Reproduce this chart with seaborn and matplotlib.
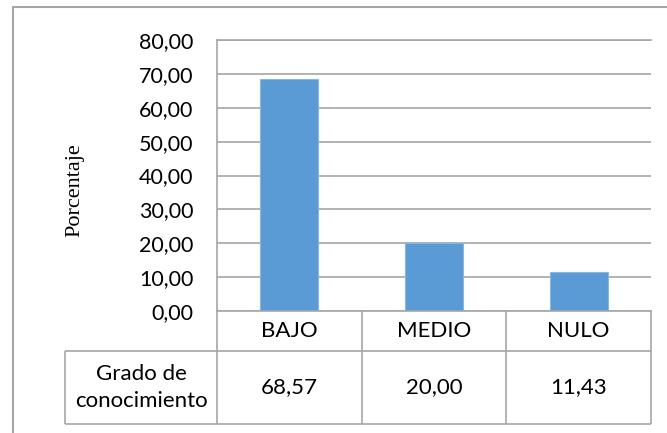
import matplotlib
matplotlib.use('Agg')
import matplotlib.pyplot as plt
import seaborn as sns
import pandas as pd
from matplotlib.transforms import blended_transform_factory
from matplotlib.lines import Line2D
from matplotlib.ticker import FuncFormatter

# ---- data ----
categories = ['BAJO', 'MEDIO', 'NULO']
values = [68.57, 20.00, 11.43]
y_ticks = [0, 10, 20, 30, 40, 50, 60, 70, 80]
row_label = 'Grado de\nconocimiento'
y_label = 'Porcentaje'

sns.set_theme(style='white')
plt.rcParams['font.family'] = ['Lato', 'DejaVu Sans']

GRID = '#A6A6A6'
BAR = '#5B9BD5'

fig = plt.figure(figsize=(6.67, 4.33), dpi=100)
ax = fig.add_axes([217 / 667, (433 - 311) / 433, 434 / 667, 271 / 433])

df = pd.DataFrame({'cat': categories, 'val': values})
sns.barplot(data=df, x='cat', y='val', color=BAR, width=0.4, saturation=1,
            edgecolor='#86B6E2', linewidth=0.8, ax=ax, zorder=2)

n = len(categories)
bounds = [i - 0.5 for i in range(n + 1)]

ax.set_ylim(0, 80)
ax.set_yticks(y_ticks)
ax.yaxis.set_major_formatter(FuncFormatter(lambda v, p: f"{v:.2f}".replace('.', ',')))
ax.yaxis.grid(True, color=GRID, linewidth=1.2)
ax.set_axisbelow(True)
ax.spines['right'].set_visible(False)
for s in ['left', 'bottom', 'top']:
    ax.spines[s].set_color(GRID)
    ax.spines[s].set_linewidth(1.2)
ax.tick_params(axis='y', length=0, pad=17, labelsize=15.5, labelcolor='black')
ax.tick_params(axis='x', length=0, labelbottom=False)
ax.set_xlabel('')
ax.set_ylabel(y_label, family=['Liberation Serif', 'DejaVu Serif'], fontsize=16, color='black')
ax.yaxis.set_label_coords(-0.305, 0.446)

# ---- data table below the axis ----
trans = blended_transform_factory(ax.transData, ax.transAxes)
y_top, y_mid, y_bot = 0.0, -0.1465, -0.417
x_lab = -1.55
lkw = dict(transform=trans, clip_on=False, color=GRID, lw=1.2, solid_capstyle='butt',
           scalex=False, scaley=False)
for b in bounds:
    ax.plot([b, b], [y_top, y_bot], **lkw)
ax.plot([x_lab, bounds[-1]], [y_mid, y_mid], **lkw)
ax.plot([x_lab, bounds[-1]], [y_bot, y_bot], **lkw)
ax.plot([x_lab, x_lab], [y_mid, y_bot], **lkw)

for i, (c, v) in enumerate(zip(categories, values)):
    ax.text(i, (y_top + y_mid) / 2, c, transform=trans, ha='center', va='center',
            fontsize=16, color='black')
    ax.text(i, (y_mid + y_bot) / 2, f"{v:.2f}".replace('.', ','), transform=trans,
            ha='center', va='center', fontsize=16, color='black')
ax.text((x_lab + bounds[0]) / 2, (y_mid + y_bot) / 2, row_label, transform=trans,
        ha='center', va='center', fontsize=16, color='black', linespacing=1.4,
        multialignment='center')

ax.set_xlim(bounds[0], bounds[-1])

# ---- outer chart frame ----
x0 = 13.5 / 667
y1 = 1 - 6.5 / 433
fig.add_artist(Line2D([x0, x0, 1], [0, y1, y1], transform=fig.transFigure,
                      color=GRID, lw=1.5))

fig.savefig('out.png', dpi=100)
